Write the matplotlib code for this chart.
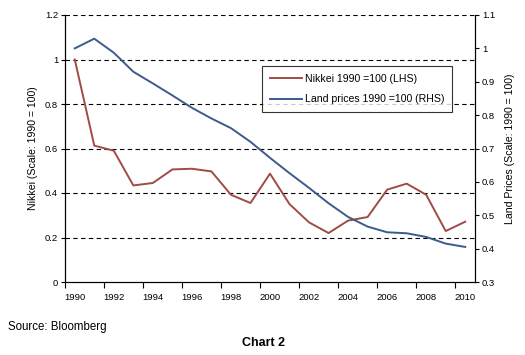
import matplotlib.pyplot as plt
from matplotlib.lines import Line2D

plt.rcParams['font.family'] = ['Liberation Sans', 'DejaVu Sans']

# data
years = list(range(1990, 2011))
nikkei = [1.0, 0.613, 0.59, 0.434, 0.445, 0.506, 0.509, 0.497, 0.392, 0.355, 0.487,
          0.35, 0.268, 0.22, 0.276, 0.292, 0.415, 0.442, 0.392, 0.229, 0.271]
land = [1.0, 1.029, 0.987, 0.93, 0.895, 0.859, 0.822, 0.79, 0.761, 0.72, 0.672,
        0.626, 0.582, 0.536, 0.495, 0.466, 0.449, 0.446, 0.435, 0.415, 0.405]
left_ticks = [0, 0.2, 0.4, 0.6, 0.8, 1, 1.2]
right_ticks = [0.3, 0.4, 0.5, 0.6, 0.7, 0.8, 0.9, 1, 1.1]

red = '#A04B45'
blue = '#3D5A8C'

fig = plt.figure(figsize=(5.25, 3.55), dpi=100)
ax = fig.add_axes([65 / 525, 1 - 282 / 355, 410 / 525, 267 / 355])
ax2 = ax.twinx()

x = list(range(len(years)))
ax.plot(x, nikkei, color=red, lw=1.4, zorder=3)
ax2.plot(x, land, color=blue, lw=1.4, zorder=3)

ax.set_xlim(-0.5, len(years) - 0.5)
ax.set_ylim(0, 1.2)
ax2.set_ylim(0.3, 1.1)

# category axis: tick marks on boundaries, labels on every second year
ax.set_xticks([i - 0.5 for i in range(0, len(years), 2)])
ax.set_xticklabels([])
ax.set_xticks(x[::2], minor=True)
ax.set_xticklabels([str(y) for y in years[::2]], minor=True, fontsize=6.8)
ax.tick_params(axis='x', which='major', direction='out', length=4, width=0.8)
ax.tick_params(axis='x', which='minor', length=0, pad=8)

ax.set_yticks(left_ticks)
ax.set_yticklabels(['0', '0.2', '0.4', '0.6', '0.8', '1', '1.2'], fontsize=6.8)
ax.tick_params(axis='y', direction='out', length=3, width=0.8, pad=2)
ax2.set_yticks(right_ticks)
ax2.set_yticklabels(['0.3', '0.4', '0.5', '0.6', '0.7', '0.8', '0.9', '1', '1.1'],
                    fontsize=6.8)
ax2.tick_params(axis='y', direction='out', length=3, width=0.8, pad=2)

for t in left_ticks[1:]:
    ax.axhline(t, color='black', lw=0.8, ls=(0, (4, 3)), zorder=1)

for a in (ax, ax2):
    a.spines['top'].set_visible(False)
    for s in ('left', 'right', 'bottom'):
        a.spines[s].set_linewidth(0.8)

ax.set_ylabel('Nikkei (Scale: 1990 = 100)', fontsize=7.6, labelpad=5)
ax2.set_ylabel('Land Prices (Scale: 1990 = 100)', fontsize=7.6, labelpad=7)

handles = [Line2D([], [], color=red, lw=1.4), Line2D([], [], color=blue, lw=1.4)]
leg = ax2.legend(handles, ['Nikkei 1990 =100 (LHS)', 'Land prices 1990 =100 (RHS)'],
                 loc='upper left', bbox_to_anchor=((262 - 65) / 410, (282 - 66) / 267),
                 fontsize=7.6, frameon=True, fancybox=False, handlelength=3.0,
                 handletextpad=0.3, borderpad=0.75, labelspacing=1.0, borderaxespad=0)
leg.get_frame().set_edgecolor('black')
leg.get_frame().set_linewidth(0.8)

fig.text(8 / 525, 1 - 327 / 355, 'Source: Bloomberg', fontsize=8.3, va='center')
fig.text(264 / 525, 1 - 343 / 355, 'Chart 2', fontsize=9, fontweight='bold',
         va='center', ha='center')

fig.savefig('out.png', dpi=100)
